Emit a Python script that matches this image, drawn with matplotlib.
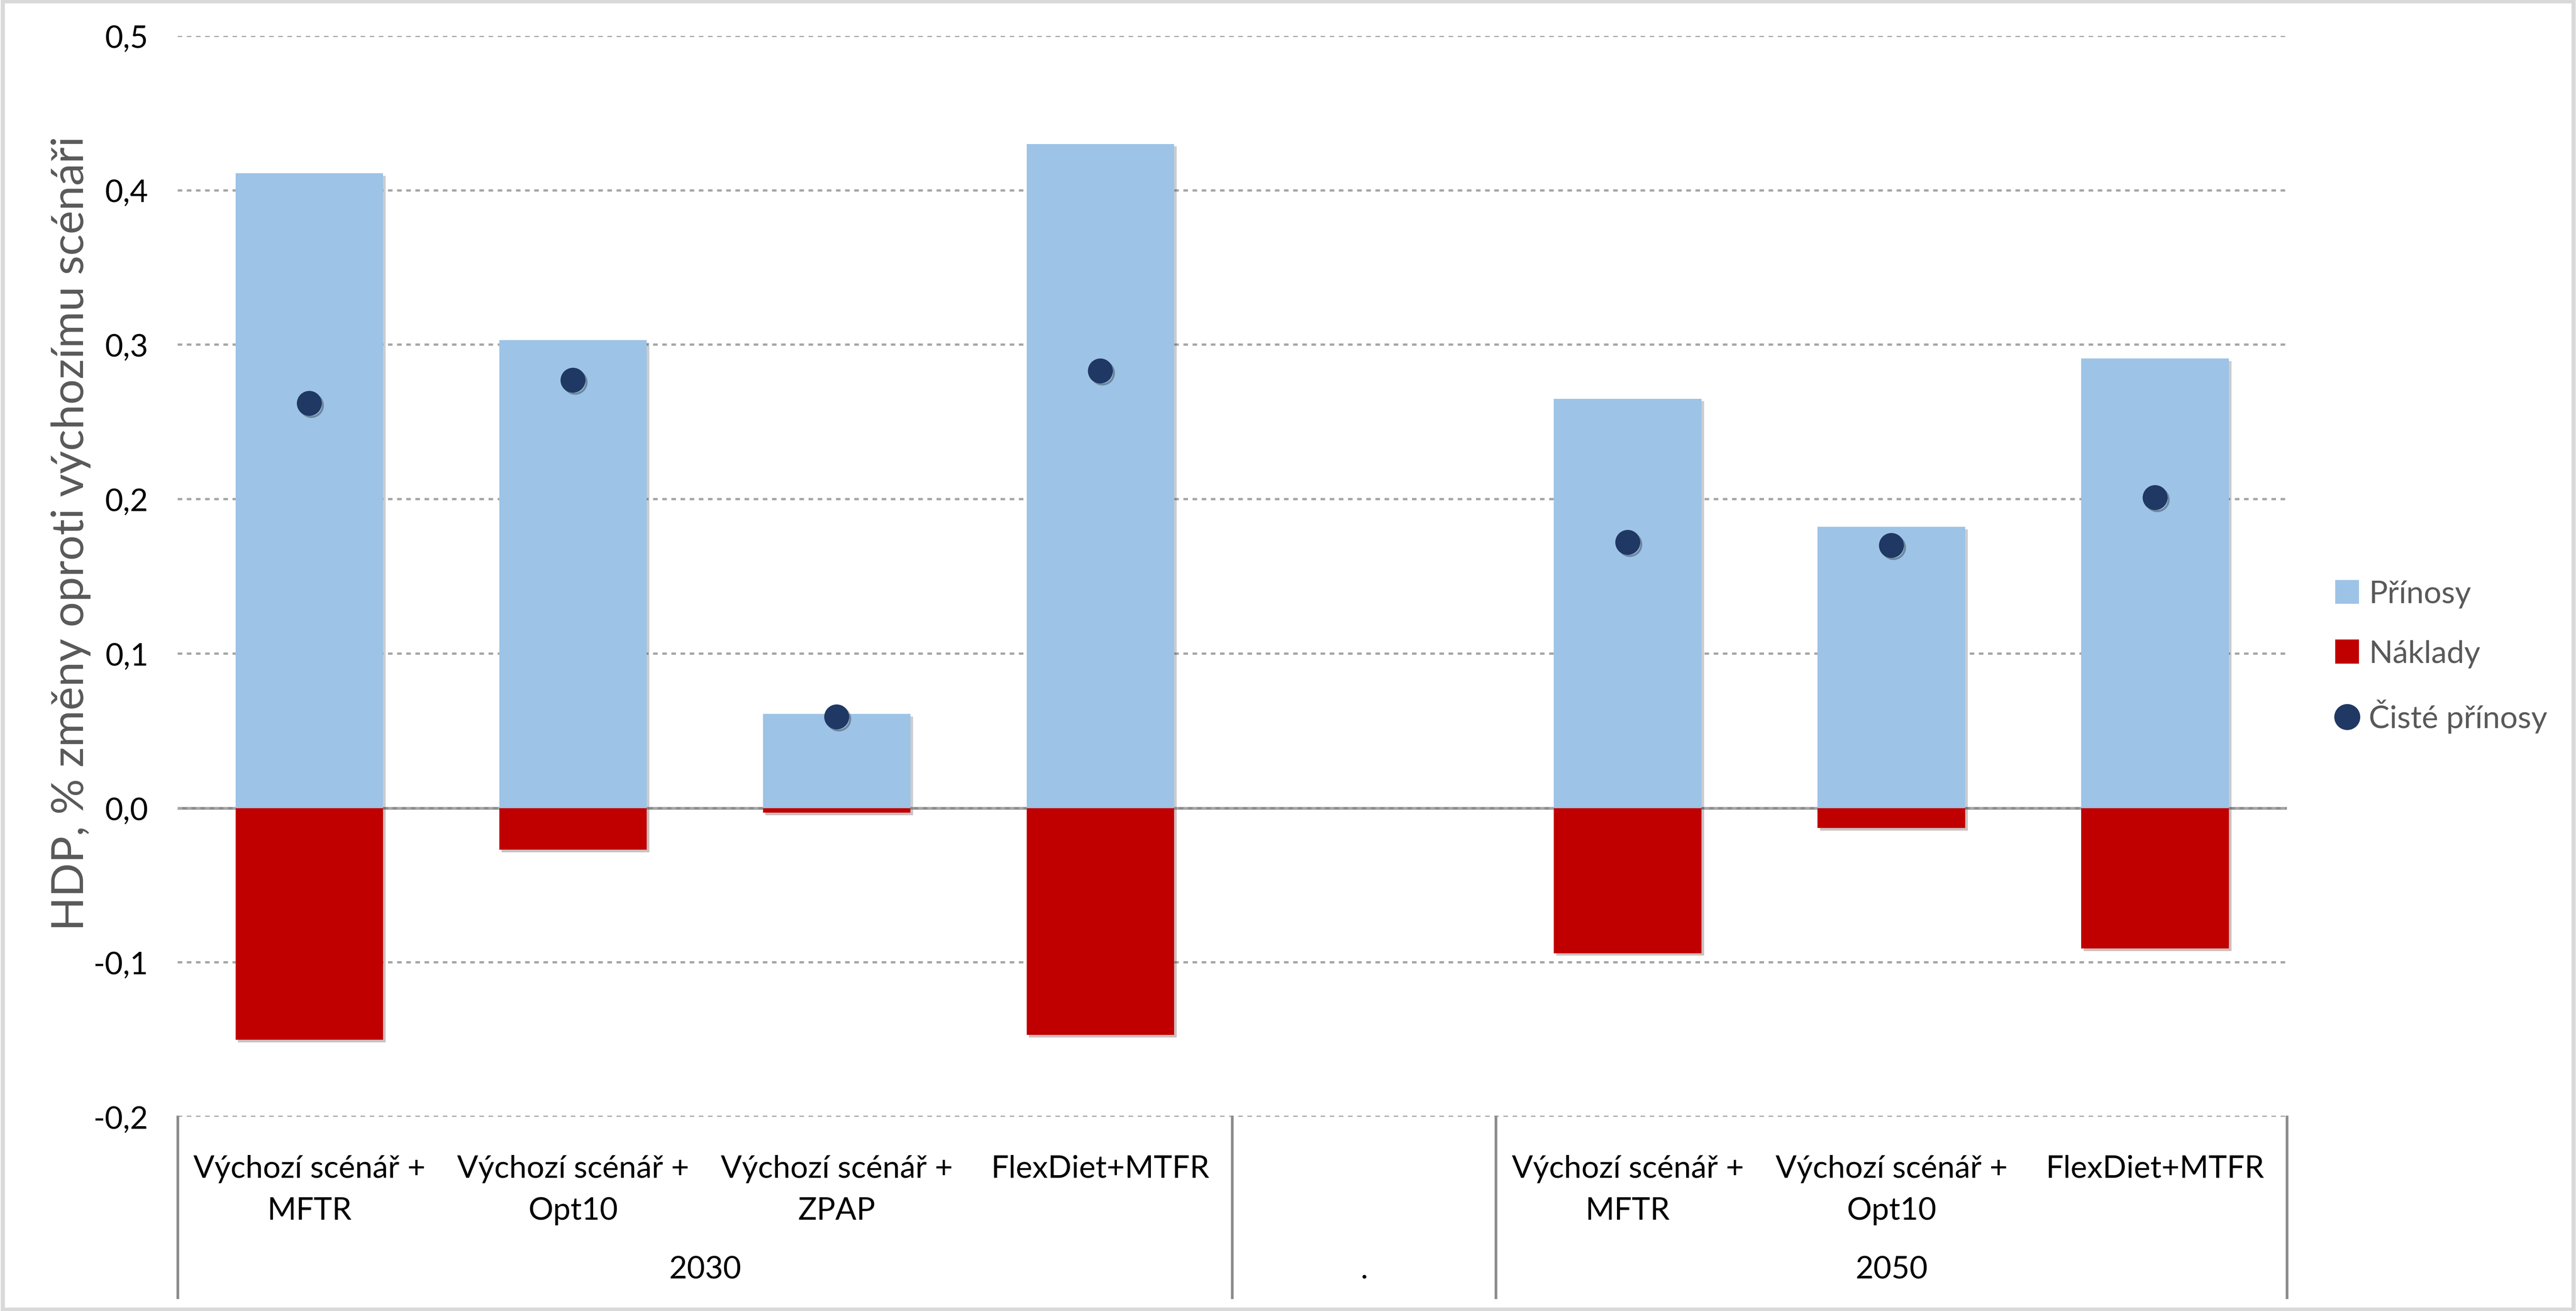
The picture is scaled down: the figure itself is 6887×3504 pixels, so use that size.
import matplotlib.pyplot as plt
import matplotlib.patheffects as pe
import numpy as np
from matplotlib.lines import Line2D
from matplotlib.patches import Patch, Rectangle
from matplotlib.ticker import FuncFormatter

plt.rcParams["font.family"] = ["Lato", "DejaVu Sans"]

categories = [
    "Výchozí scénář +\nMFTR",
    "Výchozí scénář +\nOpt10",
    "Výchozí scénář +\nZPAP",
    "FlexDiet+MTFR",
    "",
    "Výchozí scénář +\nMFTR",
    "Výchozí scénář +\nOpt10",
    "FlexDiet+MTFR",
]
groups = ["2030", ".", "2050"]
group_sizes = [4, 1, 3]

prinosy = [0.411, 0.303, 0.061, 0.430, np.nan, 0.265, 0.182, 0.291]
naklady = [-0.150, -0.027, -0.003, -0.147, np.nan, -0.094, -0.013, -0.091]
ciste = [0.262, 0.277, 0.059, 0.283, np.nan, 0.172, 0.170, 0.201]

C_PRI = "#9DC3E6"
C_NAK = "#C00000"
C_DOT = "#203864"
C_TXT = "#595959"

fig = plt.figure(figsize=(6887 / 400, 3505 / 400), dpi=400)
ax = fig.add_axes([0.0689, 0.148, 0.8189, 0.8244])

x = np.arange(len(categories))
shadow = [pe.SimplePatchShadow(offset=(1.2, -1.2), alpha=0.25), pe.Normal()]
b1 = ax.bar(x, prinosy, width=0.56, color=C_PRI, zorder=2)
b2 = ax.bar(x, naklady, width=0.56, color=C_NAK, zorder=2)
for b in list(b1) + list(b2):
    b.set_path_effects(shadow)
ax.plot(x, ciste, "o", color=C_DOT, markersize=11, zorder=3,
        path_effects=[pe.SimpleLineShadow(offset=(1, -1), alpha=0.3), pe.Normal()])

ax.set_xlim(-0.5, len(categories) - 0.5)
ax.set_ylim(-0.2, 0.5)
ax.set_yticks(np.arange(-0.2, 0.51, 0.1))
ax.yaxis.set_major_formatter(FuncFormatter(lambda v, p: f"{v:.1f}".replace(".", ",").replace("-0,0", "0,0")))
ax.tick_params(axis="y", length=0, pad=14, labelsize=15, labelcolor="#000000")
ax.grid(axis="y", linestyle=(0, (2, 2)), color="#A6A6A6", linewidth=1.1, zorder=0)
ax.axhline(0, color="#8C8C8C", linewidth=1.3, zorder=1)
for s in ax.spines.values():
    s.set_visible(False)

ax.set_xticks(x)
ax.set_xticklabels(categories, fontsize=15, linespacing=1.6, va="top")
ax.tick_params(axis="x", length=0, pad=18)

ax.set_ylabel("HDP, % změny oproti výchozímu scénáři", fontsize=21.5, color=C_TXT)
ax.yaxis.set_label_coords(-0.041, 0.54)

# group labels and separators below the axis
edges = np.concatenate([[0], np.cumsum(group_sizes)]) - 0.5
trans = ax.get_xaxis_transform()
for e in edges:
    ax.plot([e, e], [0, -0.167], color="#8C8C8C", linewidth=1.3, transform=trans, clip_on=False)
for g, a, b in zip(groups, edges[:-1], edges[1:]):
    ax.text((a + b) / 2, -0.1413, g, transform=trans, ha="center", va="center", fontsize=15)

handles = [
    Patch(color=C_PRI, label="Přínosy"),
    Patch(color=C_NAK, label="Náklady"),
    Line2D([], [], marker="o", linestyle="none", color=C_DOT, markersize=11.5, label="Čisté přínosy"),
]
leg = fig.legend(handles=handles, loc="center left", bbox_to_anchor=(0.896, 0.499), frameon=False,
                 fontsize=15, labelspacing=1.0, handlelength=0.7, handleheight=0.7, handletextpad=0.35)
for t in leg.get_texts():
    t.set_color(C_TXT)

fig.patches.append(Rectangle((0.001, 0.001), 0.998, 0.998, transform=fig.transFigure,
                             fill=False, edgecolor="#D9D9D9", linewidth=2))

fig.savefig("out.png", dpi=400)
plt.close(fig)
